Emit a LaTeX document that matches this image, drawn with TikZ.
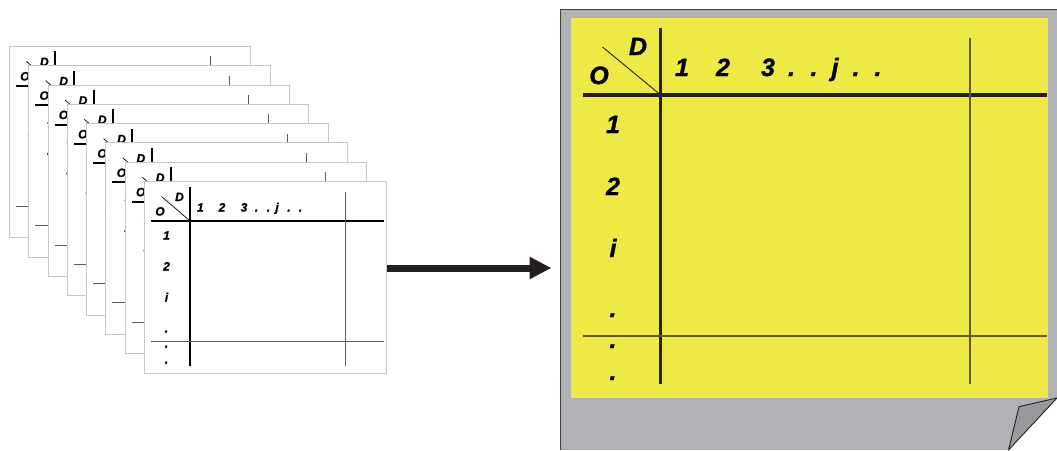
\documentclass[tikz,border=0pt]{standalone}
\usepackage{fontspec}
\setmainfont{Liberation Sans}
\newfontfamily\lblfont[UprightFont={Liberation Sans Bold Italic},FakeBold=1.2]{Liberation Sans Bold Italic}
\usetikzlibrary{arrows.meta}
\definecolor{paper}{HTML}{B0B1B5}
\definecolor{foldc}{HTML}{98999D}
\definecolor{note}{HTML}{EFE946}
\definecolor{ink}{HTML}{231F20}
\tikzset{
  sheet/.style={draw=black!22,fill=white,line width=1pt,inner sep=0pt,outer sep=0pt,minimum width=241.5pt,minimum height=191.5pt,anchor=north west},
  smalltxt/.style={font=\fontsize{12}{12}\lblfont,inner sep=0pt,anchor=base,text=black},
  bigtxt/.style={font=\fontsize{25}{25}\lblfont,inner sep=0pt,anchor=base,text=black},
  smallthick/.style={draw=black,line width=2pt},
  smallthin/.style={draw=black!65,line width=1pt},
  bigthick/.style={draw=ink,line width=3.4pt},
  bigthin/.style={draw=black!60!note,line width=1.1pt}
}
\begin{document}
\begin{tikzpicture}[x=1pt,y=-1pt]
\useasboundingbox (0,0) rectangle (1057,450);
% stacked sheets
\foreach \k in {0,...,7}{
\begin{scope}[shift={({9.4+19.3*\k},{46.4+19.3*\k})}]
  \node[sheet] (s\k) at (0,0) {};
  \coordinate (v1\k) at (45.6,5); \coordinate (v2\k) at (45.6,184);
  \coordinate (h1\k) at (6.5,39.5); \coordinate (h2\k) at (239.5,39.5);
  \coordinate (l1\k) at (6.5,160); \coordinate (l2\k) at (239.5,160);
  \coordinate (r1\k) at (200.7,10); \coordinate (r2\k) at (200.7,184);
  \coordinate (d1\k) at (17,15); \coordinate (d2\k) at (45.6,39.5);
  \draw[smallthick] (v1\k) -- (v2\k);
  \draw[smallthick] (h1\k) -- (h2\k);
  \draw[smallthin] (l1\k) -- (l2\k);
  \draw[smallthin] (r1\k) -- (r2\k);
  \draw[draw=black,line width=0.7pt] (d1\k) -- (d2\k);
  \node[smalltxt] (sD\k) at (35,19.5) {D};
  \node[smalltxt] (sO\k) at (15.5,34) {O};
  \node[smalltxt] (a\k) at (55.8,30) {1};
  \node[smalltxt] (b\k) at (77.5,30) {2};
  \node[smalltxt] (c\k) at (99.5,30) {3};
  \node[smalltxt] (e\k) at (112,30) {.};
  \node[smalltxt] (f\k) at (124,30) {.};
  \node[smalltxt] (g\k) at (132.5,30) {j};
  \node[smalltxt] (m\k) at (144.5,30) {.};
  \node[smalltxt] (n\k) at (156,30) {.};
  \node[smalltxt] (p\k) at (22,58) {1};
  \node[smalltxt] (q\k) at (22,89) {2};
  \node[smalltxt] (t\k) at (22,120) {i};
  \node[smalltxt] (u\k) at (22,151) {.};
  \node[smalltxt] (w\k) at (22,166) {.};
  \node[smalltxt] (z\k) at (22,182) {.};
\end{scope}}
% large sheet
\fill[paper] (560.5,9) -- (1057,9) -- (1057,398) -- (1008.5,450) -- (560.5,450) -- cycle;
\draw[draw=black!75,line width=1pt] (560.5,450) -- (560.5,9) -- (1057,9);
\draw[draw=ink,line width=0.9pt,fill=foldc,line join=round] (1057,398) -- (1019,406.7) -- (1008.5,450) -- cycle;
\node[fill=note,inner sep=0pt,minimum width=477pt,minimum height=380pt,anchor=north west] (note) at (571,18) {};
\coordinate (V1) at (660.7,28); \coordinate (V2) at (660.7,384);
\coordinate (H1) at (583,95); \coordinate (H2) at (1047,95);
\coordinate (L1) at (583,336); \coordinate (L2) at (1047,336);
\coordinate (R1) at (970,37.5); \coordinate (R2) at (970,384);
\coordinate (D1) at (602.5,47); \coordinate (D2) at (660.7,95);
\draw[bigthick] (V1) -- (V2);
\draw[bigthick] (H1) -- (H2);
\draw[bigthin] (L1) -- (L2);
\draw[bigthin] (R1) -- (R2);
\draw[draw=ink,line width=0.9pt] (D1) -- (D2);
\node[bigtxt] (bD) at (638,55) {D};
\node[bigtxt] (bO) at (599,84) {O};
\node[bigtxt] (b1) at (682,76) {1};
\node[bigtxt] (b2) at (723,76) {2};
\node[bigtxt] (b3) at (768,76) {3};
\node[bigtxt] (bd1) at (791.5,76) {.};
\node[bigtxt] (bd2) at (814,76) {.};
\node[bigtxt] (bj) at (835,76) {j};
\node[bigtxt] (bd3) at (856,76) {.};
\node[bigtxt] (bd4) at (878,76) {.};
\node[bigtxt] (r1) at (613,133) {1};
\node[bigtxt] (r2) at (613,195) {2};
\node[bigtxt] (r3) at (613,257) {i};
\node[bigtxt] (r4) at (613,317) {.};
\node[bigtxt] (r5) at (613,348) {.};
\node[bigtxt] (r6) at (613,380) {.};
% arrow
\coordinate (A1) at (387,268); \coordinate (A2) at (551.5,268);
\draw[draw=ink,line width=7pt,-{Triangle[length=22pt,width=21pt]}] (A1) -- (A2);
\end{tikzpicture}
\end{document}
